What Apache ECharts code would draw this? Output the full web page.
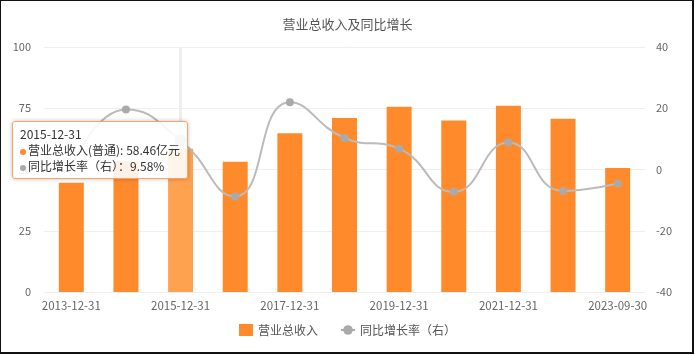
<!DOCTYPE html>
<html><head><meta charset="utf-8">
<script src="https://cdn.jsdelivr.net/npm/echarts@6/dist/echarts.min.js"></script>
<style>
html,body{margin:0;padding:0;background:#fff;}
#frame{position:absolute;width:691px;height:351px;border:2px solid #111;box-sizing:content-box;}
#chart{position:absolute;left:0;top:0;width:695px;height:355px;}
</style></head>
<body>
<div id="chart"></div>
<div id="frame" style="pointer-events:none;left:-1px;top:-1px;"></div>
<script>
const categories = ['2013-12-31','2014-12-31','2015-12-31','2016-12-31','2017-12-31','2018-12-31','2019-12-31','2020-12-31','2021-12-31','2022-12-31','2023-09-30'];
const revenue = [44.6, 53.35, 58.46, 53.2, 64.8, 71.0, 75.6, 70.0, 76.0, 70.7, 50.6];
const growth = [1.0, 19.6, 9.58, -8.8, 22.0, 10.3, 6.8, -7.3, 8.8, -7.0, -4.6];
const leftTicks = {min: 0, max: 100, interval: 25};
const rightTicks = {min: -40, max: 40, interval: 20};
const FONT = '"Noto Sans CJK SC", "Noto Sans", sans-serif';
const chart = echarts.init(document.getElementById('chart'));
chart.setOption({
  animation: false,
  textStyle: {fontFamily: FONT},
  title: {text: '营业总收入及同比增长', left: 'center', top: 13, textStyle: {fontSize: 13, fontWeight: 'normal', color: '#555', fontFamily: FONT}},
  grid: {left: 44, right: 50, top: 47, bottom: 63},
  tooltip: {
    trigger: 'axis', triggerOn: 'none', alwaysShowContent: true,
    position: [12, 121],
    backgroundColor: 'rgba(255,255,255,0.88)', borderColor: '#f2a766', borderWidth: 1,
    padding: [4, 7],
    extraCssText: 'box-shadow:0 0 4px rgba(0,0,0,0.25);border-radius:3px;',
    textStyle: {fontSize: 12, color: '#333', fontFamily: FONT},
    axisPointer: {type: 'line', z: 1, lineStyle: {color: '#eeeeee', width: 3, type: 'solid'}},
    formatter: function (ps) {
      let s = '<div style="font-size:12px;line-height:16px;color:#333">' + ps[0].axisValue + '</div>';
      ps.forEach(p => {
        const c = p.seriesIndex === 0 ? '#ff8a2b' : '#aaaaaa';
        const txt = p.seriesIndex === 0 ? '营业总收入(普通): ' + p.value.toFixed(2) + '亿元' : '同比增长率（右）：' + p.value.toFixed(2) + '%';
        s += '<div style="font-size:12px;line-height:16px;color:#333"><span style="display:inline-block;width:6px;height:6px;border-radius:3px;background:' + c + ';margin-right:2px;vertical-align:middle"></span>' + txt + '</div>';
      });
      return s;
    }
  },
  legend: {
    bottom: 14, left: 'center', itemGap: 22, itemWidth: 14, itemHeight: 12,
    textStyle: {fontSize: 12, color: '#555', fontFamily: FONT},
    data: [{name: '营业总收入', icon: 'rect'}, {name: '同比增长率（右）'}]
  },
  xAxis: {
    type: 'category', data: categories,
    axisLine: {show: false}, axisTick: {show: false},
    axisLabel: {interval: 1, color: '#666', fontSize: 11.5, margin: 8}
  },
  yAxis: [
    {type: 'value', min: leftTicks.min, max: leftTicks.max, interval: leftTicks.interval,
     axisLine: {show: false}, axisTick: {show: false},
     axisLabel: {color: '#666', fontSize: 11, margin: 13},
     splitLine: {lineStyle: {color: '#eeeeee'}}},
    {type: 'value', min: rightTicks.min, max: rightTicks.max, interval: rightTicks.interval,
     axisLine: {show: false}, axisTick: {show: false},
     axisLabel: {color: '#666', fontSize: 11, margin: 11},
     splitLine: {show: false}}
  ],
  series: [
    {name: '营业总收入', type: 'bar', data: revenue, barWidth: 25, yAxisIndex: 0,
     itemStyle: {color: '#ff8a2b'},
     emphasis: {itemStyle: {color: '#ffa24f'}}},
    {name: '同比增长率（右）', type: 'line', data: growth, yAxisIndex: 1, smooth: true,
     symbol: 'circle', symbolSize: 8, showAllSymbol: true,
     lineStyle: {color: '#aaaaaa', width: 2}, itemStyle: {color: '#aaaaaa'},
     emphasis: {scale: 1.5}}
  ]
});
chart.dispatchAction({type: 'showTip', seriesIndex: 0, dataIndex: 2});
chart.dispatchAction({type: 'highlight', seriesIndex: 0, dataIndex: 2});
</script>
</body></html>
